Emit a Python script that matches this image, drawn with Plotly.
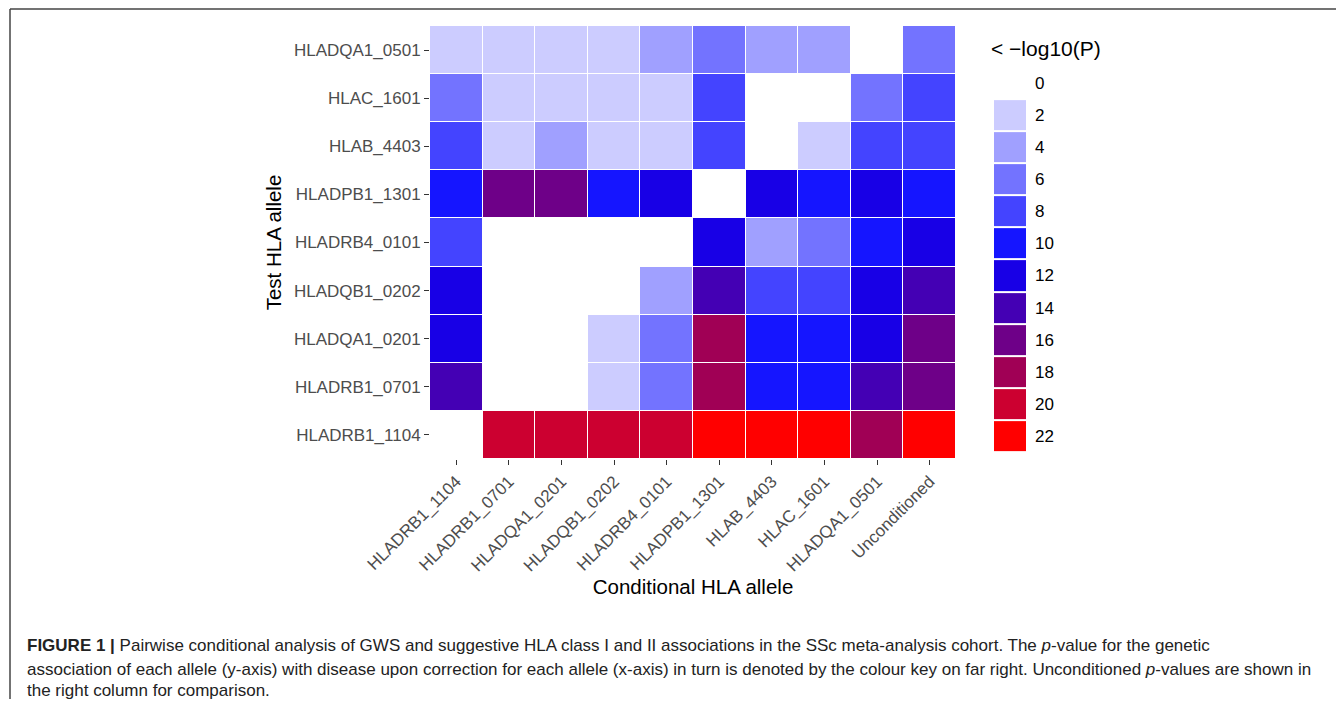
import plotly.graph_objects as go

# the page body has an 8px margin, so the figure is sized to fit inside it
OFF = 8
W, H = 1344 - 2 * OFF, 707 - 2 * OFF

conditional = ["HLADRB1_1104", "HLADRB1_0701", "HLADQA1_0201", "HLADQB1_0202",
               "HLADRB4_0101", "HLADPB1_1301", "HLAB_4403", "HLAC_1601",
               "HLADQA1_0501", "Unconditioned"]
test = ["HLADQA1_0501", "HLAC_1601", "HLAB_4403", "HLADPB1_1301", "HLADRB4_0101",
        "HLADQB1_0202", "HLADQA1_0201", "HLADRB1_0701", "HLADRB1_1104"]

# estimated -log10(P) values read from the colour bins (None = not tested)
N = None
row_HLADQA1_0501 = [1, 1, 1, 1, 3, 5, 3, 3, N, 5]
row_HLAC_1601 = [5, 1, 1, 1, 1, 7, N, N, 5, 7]
row_HLAB_4403 = [7, 1, 3, 1, 1, 7, N, 1, 7, 7]
row_HLADPB1_1301 = [9, 15, 15, 9, 11, N, 11, 9, 11, 9]
row_HLADRB4_0101 = [7, N, N, N, N, 11, 3, 5, 9, 11]
row_HLADQB1_0202 = [11, N, N, N, 3, 13, 7, 7, 11, 13]
row_HLADQA1_0201 = [11, N, N, 1, 5, 17, 9, 9, 11, 15]
row_HLADRB1_0701 = [13, N, N, 1, 5, 17, 9, 9, 13, 15]
row_HLADRB1_1104 = [N, 19, 19, 19, 19, 21, 21, 21, 17, 21]

z = [row_HLADQA1_0501, row_HLAC_1601, row_HLAB_4403, row_HLADPB1_1301,
     row_HLADRB4_0101, row_HLADQB1_0202, row_HLADQA1_0201, row_HLADRB1_0701,
     row_HLADRB1_1104]

bin_edges = [0, 2, 4, 6, 8, 10, 12, 14, 16, 18, 20, 22]
bin_colors = ["#CCCCFF", "#A0A0FF", "#7373FF", "#4444FF", "#1515FF", "#1800E6",
              "#4400B4", "#6E0088", "#A00055", "#CC0030", "#FF0000"]
legend_labels = ["0", "2", "4", "6", "8", "10", "12", "14", "16", "18", "20", "22"]
legend_mid = [1, 3, 5, 7, 9, 11, 13, 15, 17, 19, 21]

nb = len(bin_colors)
colorscale = []
for i, c in enumerate(bin_colors):
    colorscale.append([i / nb, c])
    colorscale.append([(i + 1) / nb, c])

fig = go.Figure()

fig.add_trace(go.Heatmap(
    z=z, x=conditional, y=test, colorscale=colorscale, zmin=0, zmax=22,
    xgap=1, ygap=1, showscale=False, hoverongaps=False,
))

# legend key drawn as a small heatmap on its own axes
fig.add_trace(go.Heatmap(
    z=[[v] for v in legend_mid], x=[0], y=list(range(1, nb + 1)),
    colorscale=colorscale, zmin=0, zmax=22, ygap=2, showscale=False,
    xaxis="x2", yaxis="y2", hoverinfo="skip",
))

# reference-pixel -> paper coordinates
px = lambda v: (v - OFF) / W
py = lambda v: 1 - (v - OFF) / H

FONT = "Liberation Sans, Arial, sans-serif"
tickfont = dict(family=FONT, size=17, color="#4d4d4d")
titlefont = dict(family=FONT, size=20.5, color="black")
capfont = dict(family=FONT, size=17, color="#222222")

fig.update_layout(
    width=W, height=H,
    margin=dict(l=0, r=0, t=0, b=0),
    paper_bgcolor="white", plot_bgcolor="white",
    font=dict(family=FONT),
    xaxis=dict(
        domain=[px(430), px(956)], anchor="y",
        type="category", categoryorder="array", categoryarray=conditional,
        tickangle=-45, ticks="outside", ticklen=5, tickcolor="#333333",
        tickfont=tickfont, showgrid=False, zeroline=False, showline=False,
        title=dict(text="Conditional HLA allele", font=titlefont, standoff=5),
        automargin=False,
    ),
    yaxis=dict(
        domain=[py(459), py(26)], anchor="x",
        type="category", categoryorder="array", categoryarray=test,
        autorange="reversed", ticks="outside", ticklen=5, tickcolor="#333333",
        tickfont=tickfont, showgrid=False, zeroline=False, showline=False,
        title=dict(text="Test HLA allele", font=titlefont, standoff=6),
        automargin=False,
    ),
    xaxis2=dict(
        domain=[px(994), px(1026)], anchor="y2", range=[-0.5, 0.5],
        showticklabels=False, showgrid=False, zeroline=False, showline=False,
        ticks="",
    ),
    yaxis2=dict(
        domain=[py(452), py(67)], anchor="x2", range=[nb + 0.5, -0.5],
        side="right", tickmode="array", tickvals=list(range(0, nb + 1)),
        ticktext=legend_labels, ticks="", showgrid=False, zeroline=False,
        showline=False, ticklabelstandoff=8,
        tickfont=dict(family=FONT, size=17, color="black"),
    ),
    annotations=[
        dict(text="< \u2212log10(P)", x=px(989), y=py(48), xref="paper", yref="paper",
             xanchor="left", yanchor="middle", showarrow=False,
             font=dict(family=FONT, size=21, color="black")),
        dict(text="<b>FIGURE 1 |</b> Pairwise conditional analysis of GWS and suggestive HLA class I and II associations in the SSc meta-analysis cohort. The <i>p</i>-value for the genetic",
             x=px(25), y=py(645), xref="paper", yref="paper", xanchor="left", yanchor="middle",
             showarrow=False, font=capfont),
        dict(text="association of each allele (y-axis) with disease upon correction for each allele (x-axis) in turn is denoted by the colour key on far right. Unconditioned <i>p</i>-values are shown in",
             x=px(25), y=py(669), xref="paper", yref="paper", xanchor="left", yanchor="middle",
             showarrow=False, font=capfont),
        dict(text="the right column for comparison.",
             x=px(25), y=py(690), xref="paper", yref="paper", xanchor="left", yanchor="middle",
             showarrow=False, font=capfont),
    ],
    shapes=[
        dict(type="line", xref="paper", yref="paper", x0=px(10), x1=1, y0=py(9), y1=py(9),
             line=dict(color="#444444", width=1.5)),
        dict(type="line", xref="paper", yref="paper", x0=px(10), x1=px(10), y0=py(9), y1=0,
             line=dict(color="#444444", width=1.5)),
    ],
)

fig.write_html("out.html")
